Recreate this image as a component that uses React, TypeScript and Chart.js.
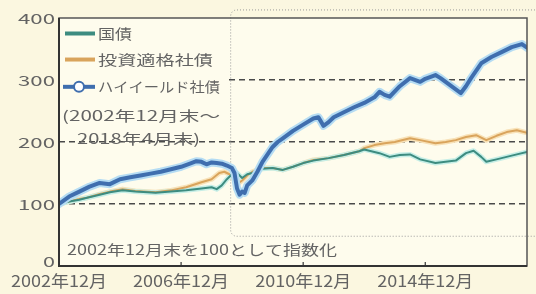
import { useEffect, useRef } from 'react';
import { Chart, registerables } from 'chart.js';

Chart.register(...registerables);

// months elapsed since 2002年12月末 (0) to 2018年4月末 (184)
const xTickMonths = [0, 48, 96, 144];
const xTickLabels = ['2002年12月', '2006年12月', '2010年12月', '2014年12月'];
const yTickValues = [0, 100, 200, 300, 400];
const yTickLabels = ['0', '100', '200', '300', '400'];
const gridValues = [100, 200, 300];

const seriesNames = ['国債', '投資適格社債', 'ハイイールド社債'];
const periodNote = ['(2002年12月末～', '2018年4月末)'];
const baseNote = '2002年12月末を100として指数化';

const hyMonths = [0, 4, 8, 12, 16, 20, 24, 28, 32, 36, 40, 44, 48, 52, 54, 56, 58, 60, 62, 64, 66, 68, 69, 70, 71, 72, 73, 74, 76, 78, 80, 82, 84, 86, 88, 90, 92, 96, 100, 102, 104, 106, 108, 112, 116, 120, 124, 126, 128, 130, 134, 138, 142, 144, 148, 150, 152, 156, 158, 160, 162, 166, 170, 174, 178, 182, 184];
const hyValues = [100, 112, 120, 128, 134, 132, 140, 143, 146, 149, 152, 156, 160, 166, 169, 168, 164, 167, 166, 165, 162, 158, 150, 125, 115, 120, 118, 130, 138, 152, 168, 180, 192, 200, 206, 212, 218, 228, 238, 240, 226, 232, 240, 248, 256, 263, 272, 281, 276, 273, 290, 303, 297, 302, 308, 303, 297, 285, 279, 290, 303, 327, 337, 345, 353, 358, 352];

const igMonths = [0, 4, 8, 11, 16, 20, 25, 30, 38, 44, 50, 56, 60, 63, 65, 67, 68, 70, 72, 74, 76, 80, 84, 88, 92, 96, 100, 106, 112, 118, 120, 124, 128, 132, 136, 138, 142, 148, 152, 156, 160, 164, 168, 172, 176, 180, 184];
const igValues = [100, 104, 108, 110, 116, 120, 124, 121, 119, 122, 127, 135, 140, 150, 152, 148, 144, 132, 138, 146, 152, 158, 158, 155, 160, 166, 171, 174, 179, 185, 190, 195, 198, 200, 204, 206, 203, 198, 200, 203, 208, 211, 203, 210, 216, 219, 215];

const govMonths = [0, 4, 8, 11, 16, 20, 25, 30, 38, 44, 50, 56, 60, 62, 64, 66, 68, 70, 72, 74, 76, 80, 84, 88, 92, 96, 100, 106, 112, 118, 120, 122, 126, 130, 134, 138, 142, 148, 152, 156, 160, 163, 166, 168, 172, 176, 180, 184];
const govValues = [100, 104, 107, 110, 115, 119, 122, 120, 118, 120, 122, 125, 127, 124, 130, 140, 148, 150, 142, 148, 150, 157, 158, 155, 160, 166, 170, 174, 179, 185, 188, 186, 182, 176, 179, 180, 172, 166, 168, 170, 182, 186, 176, 168, 172, 176, 180, 184];

const COLORS = {
  outer: '#fbf7e0',
  inner: '#fefced',
  text: '#636363',
  gov: '#3d8c80',
  govHalo: '#c6eee6',
  ig: '#d9a45c',
  igHalo: '#f8e2b8',
  hy: '#3f6eae',
  hyHalo: '#b5dcf3',
  grid: '#4a4a4a',
  frame: '#555555',
  dotted: '#9a9a9a',
};

const FONT = '"Noto Sans CJK JP", "Noto Sans", sans-serif';

function toPoints(months: number[], values: number[]) {
  return months.map((m, i) => ({ x: m, y: values[i] }));
}

function stretchText(
  ctx: CanvasRenderingContext2D,
  text: string,
  x: number,
  y: number,
  size: number,
  width: number,
  align: 'left' | 'center' | 'right',
  color: string
) {
  ctx.save();
  ctx.font = `${size}px ${FONT}`;
  ctx.fillStyle = color;
  ctx.textBaseline = 'middle';
  ctx.textAlign = 'left';
  const w = ctx.measureText(text).width || 1;
  const sx = width / w;
  const left = align === 'left' ? x : align === 'center' ? x - width / 2 : x - width;
  ctx.translate(left, y);
  ctx.scale(sx, 1);
  ctx.fillText(text, 0, 0);
  ctx.restore();
}

const decorPlugin = {
  id: 'decor',
  beforeDraw(chart: any) {
    const { ctx, chartArea: a, width, height } = chart;
    ctx.save();
    ctx.fillStyle = COLORS.outer;
    ctx.fillRect(0, 0, width, height);
    ctx.fillStyle = COLORS.inner;
    ctx.fillRect(a.left, a.top, a.right - a.left, a.bottom - a.top);
    ctx.restore();
  },
  beforeDatasetsDraw(chart: any) {
    const { ctx, chartArea: a, scales } = chart;
    const xs = scales.x;
    const ys = scales.y;
    ctx.save();
    // legend background over grid
    ctx.fillStyle = COLORS.inner;
    ctx.fillRect(a.left + 1, a.top + 1, 168, ys.getPixelForValue(222) - a.top);
    // dotted highlight frame (2008年夏以降)
    const bx = xs.getPixelForValue(67.5);
    const by1 = ys.getPixelForValue(413);
    const by2 = ys.getPixelForValue(48);
    const r = 6;
    ctx.strokeStyle = COLORS.dotted;
    ctx.lineWidth = 1;
    ctx.setLineDash([1, 2]);
    ctx.beginPath();
    ctx.moveTo(chart.width + 2, by1);
    ctx.lineTo(bx + r, by1);
    ctx.arcTo(bx, by1, bx, by1 + r, r);
    ctx.lineTo(bx, by2 - r);
    ctx.arcTo(bx, by2, bx + r, by2, r);
    ctx.lineTo(chart.width + 2, by2);
    ctx.stroke();
    ctx.restore();
  },
  afterDatasetsDraw(chart: any) {
    const { ctx, chartArea: a, scales } = chart;
    const xs = scales.x;
    const ys = scales.y;
    ctx.save();
    // frame
    ctx.strokeStyle = COLORS.frame;
    ctx.lineWidth = 1.5;
    ctx.strokeRect(a.left, a.top, a.right - a.left, a.bottom - a.top);
    ctx.strokeStyle = '#333';
    ctx.lineWidth = 2;
    ctx.beginPath();
    ctx.moveTo(a.left, a.top);
    ctx.lineTo(a.left, a.bottom);
    ctx.lineTo(a.right, a.bottom);
    ctx.stroke();
    // x tick marks (inward)
    ctx.lineWidth = 1.2;
    xTickMonths.forEach((m, i) => {
      if (i === 0) return;
      const px = xs.getPixelForValue(m);
      ctx.beginPath();
      ctx.moveTo(px, a.bottom);
      ctx.lineTo(px, a.bottom - 4);
      ctx.stroke();
    });
    ctx.restore();

    // y tick labels
    yTickValues.forEach((v, i) => {
      const py = ys.getPixelForValue(v);
      const label = yTickLabels[i];
      const w = label.length === 1 ? 12 : 37;
      stretchText(ctx, label, a.left - 4, v === 0 ? py - 4 : py + 1, 14, w, 'right', COLORS.text);
    });
    // x tick labels
    xTickMonths.forEach((m, i) => {
      const px = xs.getPixelForValue(m);
      stretchText(ctx, xTickLabels[i], px, a.bottom + 15, 16, 96, 'center', COLORS.text);
    });

    // legend
    const lx = a.left;
    const rows = [ys.getPixelForValue(375), ys.getPixelForValue(333), ys.getPixelForValue(289)];
    const lineColors = [COLORS.gov, COLORS.ig, COLORS.hy];
    const widths = [34, 115, 122];
    ctx.save();
    ctx.lineCap = 'butt';
    rows.forEach((ry, i) => {
      ctx.strokeStyle = lineColors[i];
      ctx.lineWidth = 4;
      ctx.beginPath();
      ctx.moveTo(lx + (i === 2 ? 4 : 6), ry);
      ctx.lineTo(lx + 36, ry);
      ctx.stroke();
      if (i === 2) {
        ctx.beginPath();
        ctx.arc(lx + 20, ry, 5, 0, Math.PI * 2);
        ctx.fillStyle = '#ffffff';
        ctx.fill();
        ctx.lineWidth = 2;
        ctx.stroke();
      }
    });
    ctx.restore();
    rows.forEach((ry, i) => {
      stretchText(ctx, seriesNames[i], lx + 39, ry, 14, widths[i], 'left', COLORS.text);
    });
    stretchText(ctx, periodNote[0], lx + 3, ys.getPixelForValue(242), 14, 158, 'left', COLORS.text);
    stretchText(ctx, periodNote[1], lx + 18, ys.getPixelForValue(206), 14, 123, 'left', COLORS.text);
    // base note
    stretchText(ctx, baseNote, lx + 8, ys.getPixelForValue(26), 14, 270, 'left', COLORS.text);
  },
};

export default function App() {
  const canvasRef = useRef<HTMLCanvasElement | null>(null);

  useEffect(() => {
    document.body.style.margin = '0';
    const canvas = canvasRef.current;
    if (!canvas) return;
    const common = { pointRadius: 0, tension: 0, borderJoinStyle: 'round' as const, borderCapStyle: 'round' as const, fill: false };
    const chart = new Chart(canvas, {
      type: 'line',
      data: {
        datasets: [
          { label: seriesNames[2], data: toPoints(hyMonths, hyValues), borderColor: COLORS.hy, borderWidth: 4, order: 0, ...common },
          { label: 'hy-halo', data: toPoints(hyMonths, hyValues), borderColor: COLORS.hyHalo, borderWidth: 8, order: 1, ...common },
          { label: seriesNames[0], data: toPoints(govMonths, govValues), borderColor: COLORS.gov, borderWidth: 2, order: 2, ...common },
          { label: seriesNames[1], data: toPoints(igMonths, igValues), borderColor: COLORS.ig, borderWidth: 2, order: 3, ...common },
          { label: 'gov-halo', data: toPoints(govMonths, govValues), borderColor: COLORS.govHalo, borderWidth: 5, order: 4, ...common },
          { label: 'ig-halo', data: toPoints(igMonths, igValues), borderColor: COLORS.igHalo, borderWidth: 5, order: 5, ...common },
        ],
      },
      options: {
        responsive: false,
        animation: false,
        events: [],
        layout: { padding: { top: 18, right: 9, left: 0, bottom: 0 } },
        plugins: { legend: { display: false }, tooltip: { enabled: false } },
        scales: {
          x: {
            type: 'linear',
            min: 0,
            max: 184,
            afterBuildTicks: (s: any) => {
              s.ticks = xTickMonths.map((v) => ({ value: v }));
            },
            afterFit: (s: any) => {
              s.height = 28;
            },
            ticks: { display: false },
            grid: { display: false },
            border: { display: false },
          },
          y: {
            type: 'linear',
            min: 0,
            max: 400,
            afterBuildTicks: (s: any) => {
              s.ticks = yTickValues.map((v) => ({ value: v }));
            },
            afterFit: (s: any) => {
              s.width = 59;
            },
            ticks: { display: false },
            grid: {
              drawTicks: false,
              lineWidth: 1.6,
              color: (c: any) => (gridValues.includes(c.tick?.value) ? COLORS.grid : 'rgba(0,0,0,0)'),
            },
            border: { display: false, dash: [6, 4] },
          },
        },
      },
      plugins: [decorPlugin],
    });
    return () => chart.destroy();
  }, []);

  return (
    <div style={{ position: 'fixed', left: 0, top: 0, width: 536, height: 294 }}>
      <canvas ref={canvasRef} width={536} height={294} />
    </div>
  );
}
